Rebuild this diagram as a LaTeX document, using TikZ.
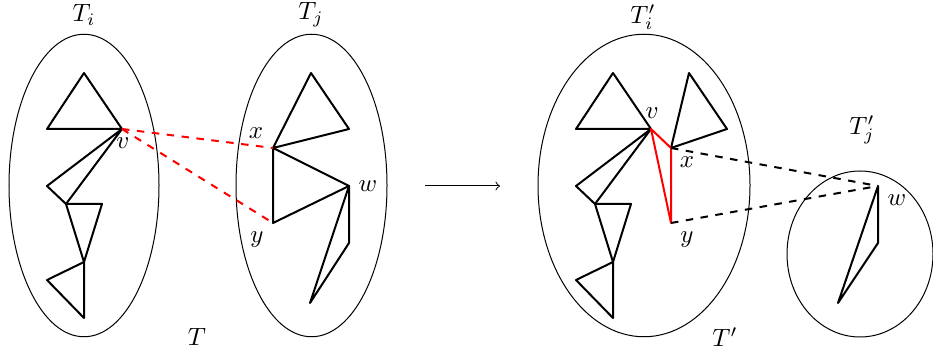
\documentclass[tikz,border=0pt]{standalone}
\usetikzlibrary{shapes.geometric}

\tikzset{
    part/.style={ellipse, draw, thin, inner sep=0pt},
    edge/.style={thick, line join=round},
    cut/.style={thick, dashed, red},
    link/.style={thick, dashed}
}

\begin{document}
\begin{tikzpicture}[x=0.4pt, y=-0.4pt]
        \useasboundingbox (0,0) rectangle (933,358);

        % Define parts
        \node[part, minimum width=60pt, minimum height=121pt] (Ti) at (84,185.5) {};
        \node[part, minimum width=60.4pt, minimum height=121pt] (Tj) at (311.5,185.5) {};
        \node[part, minimum width=84.8pt, minimum height=121pt] (Tip) at (644,185.5) {};
        \node[part, minimum width=58.4pt, minimum height=66.4pt] (Tjp) at (860,254) {};

        \node (lTi) at (84,15) {$T_i$};
        \node (lTj) at (311,15) {$T_j$};
        \node (lT) at (197,337) {$T$};
        \node (lTip) at (643,17) {$T_i'$};
        \node (lTjp) at (862,130) {$T_j'$};
        \node (lTp) at (725,337) {$T'$};

        % Define vertices of T
        \coordinate (a) at (84,73);
        \coordinate (b) at (47,129);
        \coordinate (v) at (122,129);
        \coordinate (c) at (47,186);
        \coordinate (d) at (66,204);
        \coordinate (e) at (102,204);
        \coordinate (f) at (84,262);
        \coordinate (g) at (47,280);
        \coordinate (h) at (84,318);
        \coordinate (p) at (311,73);
        \coordinate (q) at (349,129);
        \coordinate (x) at (273,148);
        \coordinate (w) at (349,186);
        \coordinate (y) at (273,223);
        \coordinate (r) at (349,243);
        \coordinate (s) at (310,303);

        % Define vertices of T'
        \coordinate (a2) at (613,73);
        \coordinate (b2) at (576,129);
        \coordinate (v2) at (651,129);
        \coordinate (c2) at (576,186);
        \coordinate (d2) at (595,204);
        \coordinate (e2) at (631,204);
        \coordinate (f2) at (613,262);
        \coordinate (g2) at (576,280);
        \coordinate (h2) at (613,318);
        \coordinate (p2) at (689,73);
        \coordinate (q2) at (727,129);
        \coordinate (x2) at (671,148);
        \coordinate (y2) at (671,223);
        \coordinate (w2) at (878,186);
        \coordinate (r2) at (878,243);
        \coordinate (s2) at (838,303);

        % Vertex labels
        \node (lv) at (123,143) {$v$};
        \node (lx) at (256,133) {$x$};
        \node (ly) at (257,240) {$y$};
        \node (lw) at (368,186) {$w$};
        \node (lv2) at (652,113) {$v$};
        \node (lx2) at (687,162) {$x$};
        \node (ly2) at (687,240) {$y$};
        \node (lw2) at (897,200) {$w$};

        % Draw T
        \draw[edge] (a) -- (b) -- (v) -- cycle;
        \draw[edge] (v) -- (c) -- (d) -- (v);
        \draw[edge] (d) -- (e) -- (f) -- cycle;
        \draw[edge] (f) -- (g) -- (h) -- cycle;
        \draw[edge] (x) -- (p) -- (q) -- cycle;
        \draw[edge] (x) -- (w) -- (y) -- cycle;
        \draw[edge] (w) -- (s) -- (r) -- cycle;
        \draw[cut] (v) -- (x);
        \draw[cut] (v) -- (y);

        % Draw T'
        \draw[edge] (a2) -- (b2) -- (v2) -- cycle;
        \draw[edge] (v2) -- (c2) -- (d2) -- (v2);
        \draw[edge] (d2) -- (e2) -- (f2) -- cycle;
        \draw[edge] (f2) -- (g2) -- (h2) -- cycle;
        \draw[edge] (x2) -- (p2) -- (q2) -- cycle;
        \draw[edge] (w2) -- (s2) -- (r2) -- cycle;
        \draw[edge, red] (v2) -- (x2) -- (y2) -- cycle;
        \draw[link] (x2) -- (w2);
        \draw[link] (y2) -- (w2);

        % Transformation arrow
        \coordinate (from) at (425,186);
        \coordinate (to) at (500,186);
        \draw[->] (from) -- (to);
    \end{tikzpicture}
\end{document}
